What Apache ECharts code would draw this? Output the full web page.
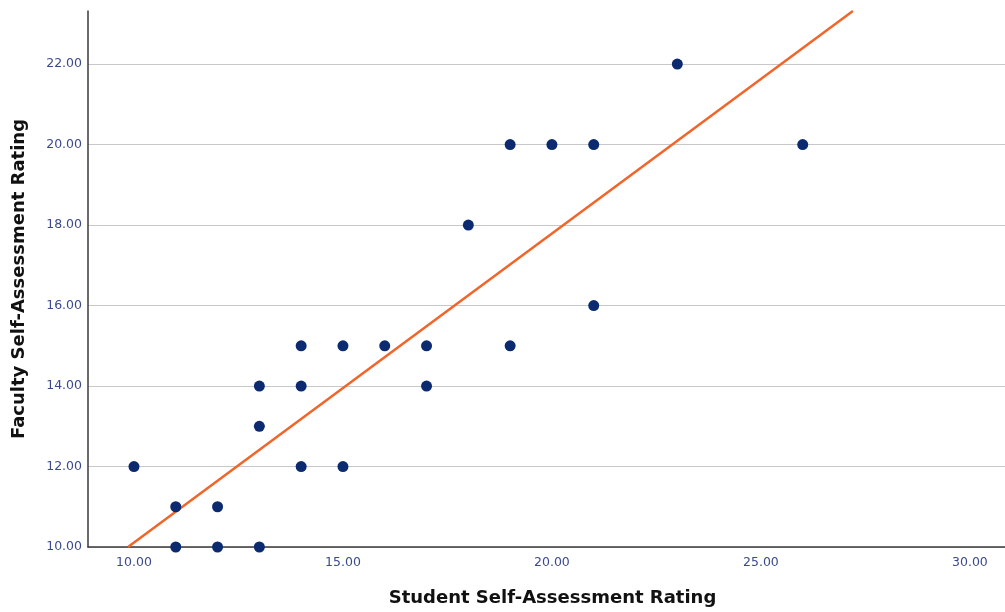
<!DOCTYPE html>
<html>
<head>
<meta charset="utf-8">
<script src="https://cdn.jsdelivr.net/npm/echarts@6/dist/echarts.min.js"></script>
<style>
html, body { margin: 0; padding: 0; background: #fff; }
#main { width: 1005px; height: 612px; }
</style>
</head>
<body>
<div id="main"></div>
<script>
// student self-assessment (x) vs faculty rating (y)
var studentRating = [10, 11, 11, 12, 12, 13, 13, 13, 14, 14, 14, 15, 15, 16, 17, 17, 18, 19, 19, 20, 21, 21, 23, 26];
var facultyRating = [12, 11, 10, 11, 10, 14, 13, 10, 15, 14, 12, 15, 12, 15, 15, 14, 18, 20, 15, 20, 20, 16, 22, 20];
var xTicks = [10, 15, 20, 25, 30];
var yTicks = [10, 12, 14, 16, 18, 20, 22];
// fit line: [intercept, slope]
var fitCoef = [2.43, 0.768];

var xMin = 8.9, xMax = 30.84;
var yMin = 10, yMax = 23.32;

var points = [];
for (var i = 0; i < studentRating.length; i++) {
    points.push([studentRating[i], facultyRating[i]]);
}

// clip the fit line to the plot's y range
var fitLine = [
    [(yMin - fitCoef[0]) / fitCoef[1], yMin],
    [(yMax - fitCoef[0]) / fitCoef[1], yMax]
];

var labelStyle = {
    color: '#3b4a8c',
    fontFamily: 'DejaVu Sans',
    fontSize: 12.5
};
var nameStyle = {
    color: '#111',
    fontFamily: 'DejaVu Sans',
    fontWeight: 'bold',
    fontSize: 18
};

var myChart = echarts.init(document.getElementById('main'));
var option = {
    animation: false,
    grid: {
        left: 88,
        right: 0,
        top: 11,
        bottom: 65,
        outerBoundsMode: 'none'
    },
    xAxis: {
        type: 'value',
        min: xMin,
        max: xMax,
        name: 'Student Self-Assessment Rating',
        nameLocation: 'middle',
        nameGap: 42,
        nameTextStyle: Object.assign({ padding: [0, 0, 0, 12] }, nameStyle),
        axisLine: { show: true, onZero: false, lineStyle: { color: '#3a3a3a', width: 1.5 } },
        axisTick: { show: false },
        splitLine: { show: false },
        axisLabel: Object.assign({
            customValues: xTicks,
            margin: 9,
            formatter: function (v) { return v.toFixed(2); }
        }, labelStyle)
    },
    yAxis: {
        type: 'value',
        min: yMin,
        max: yMax,
        interval: 2,
        name: 'Faculty Self-Assessment Rating',
        nameLocation: 'middle',
        nameGap: 60,
        nameTextStyle: nameStyle,
        axisLine: { show: true, onZero: false, lineStyle: { color: '#3a3a3a', width: 1.5 } },
        axisTick: { show: false },
        splitLine: {
            show: true,
            lineStyle: {
                color: ['#c8c8c8', '#c8c8c8', '#c8c8c8', '#c8c8c8', '#c8c8c8', '#c8c8c8', '#c8c8c8', 'rgba(0,0,0,0)'],
                width: 1.2
            }
        },
        axisLabel: Object.assign({
            customValues: yTicks,
            margin: 6,
            formatter: function (v) { return v.toFixed(2); }
        }, labelStyle)
    },
    series: [
        {
            type: 'line',
            data: fitLine,
            symbol: 'none',
            lineStyle: { color: '#f0662a', width: 2.5 },
            z: 2
        },
        {
            type: 'scatter',
            data: points,
            symbolSize: 11,
            itemStyle: { color: '#0b2a6f', opacity: 1 },
            z: 3
        }
    ]
};
if (option && typeof option === "object") {
    myChart.setOption(option, true);
}
</script>
</body>
</html>
